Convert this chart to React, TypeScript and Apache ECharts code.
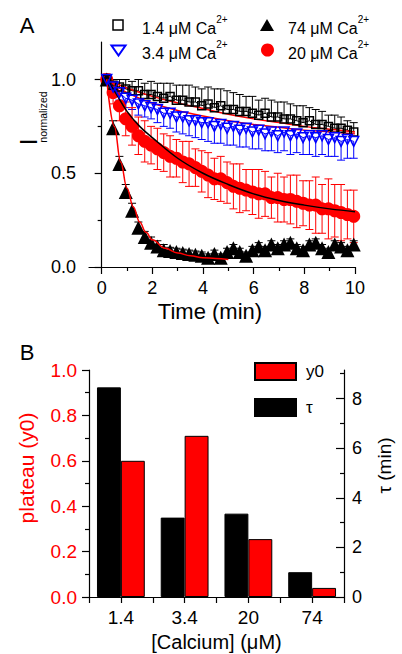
import React, { useEffect, useRef } from 'react';
import * as echarts from 'echarts';

const FONT = 'Liberation Sans, Arial, sans-serif';

// ---------- Panel A data ----------
const times = [0.2, 0.45, 0.7, 0.95, 1.2, 1.45, 1.7, 1.95, 2.2, 2.45, 2.7, 2.95, 3.2, 3.45, 3.7, 3.95, 4.2, 4.45, 4.7, 4.95,
  5.2, 5.45, 5.7, 5.95, 6.2, 6.45, 6.7, 6.95, 7.2, 7.45, 7.7, 7.95, 8.2, 8.45, 8.7, 8.95, 9.2, 9.45, 9.7, 9.95];

// 1.4 uM Ca2+ (open squares), upper SD
const ca14 = [1.00, 0.97, 0.96, 0.95, 0.94, 0.94, 0.92, 0.92, 0.91, 0.90, 0.91, 0.89, 0.89, 0.88, 0.88, 0.86, 0.87, 0.85, 0.86, 0.84,
  0.84, 0.83, 0.83, 0.82, 0.81, 0.82, 0.80, 0.80, 0.79, 0.79, 0.78, 0.77, 0.78, 0.76, 0.76, 0.75, 0.74, 0.74, 0.73, 0.72];
const ca14Err = [0.01, 0.03, 0.04, 0.05, 0.05, 0.06, 0.06, 0.07, 0.07, 0.08, 0.07, 0.08, 0.08, 0.09, 0.08, 0.09, 0.09, 0.10, 0.09, 0.10,
  0.09, 0.09, 0.08, 0.09, 0.08, 0.08, 0.09, 0.08, 0.09, 0.08, 0.08, 0.09, 0.07, 0.08, 0.07, 0.06, 0.07, 0.06, 0.05, 0.05];

// 3.4 uM Ca2+ (open down triangles), lower SD
const ca34 = [1.00, 0.96, 0.93, 0.90, 0.89, 0.87, 0.86, 0.85, 0.84, 0.82, 0.82, 0.80, 0.80, 0.78, 0.78, 0.77, 0.77, 0.75, 0.76, 0.74,
  0.75, 0.73, 0.74, 0.72, 0.73, 0.71, 0.72, 0.70, 0.72, 0.70, 0.71, 0.69, 0.70, 0.69, 0.70, 0.68, 0.69, 0.67, 0.68, 0.67];
const ca34Err = [0.01, 0.03, 0.04, 0.05, 0.05, 0.06, 0.06, 0.06, 0.07, 0.07, 0.08, 0.08, 0.09, 0.08, 0.09, 0.09, 0.10, 0.09, 0.10, 0.09,
  0.10, 0.09, 0.10, 0.09, 0.10, 0.09, 0.10, 0.09, 0.10, 0.10, 0.10, 0.09, 0.10, 0.10, 0.10, 0.09, 0.10, 0.10, 0.10, 0.09];

// 20 uM Ca2+ (red circles), +/- SD
const ca20 = [1.00, 0.93, 0.86, 0.79, 0.75, 0.70, 0.67, 0.65, 0.63, 0.61, 0.59, 0.58, 0.56, 0.55, 0.53, 0.51, 0.49, 0.47, 0.47, 0.45,
  0.43, 0.42, 0.41, 0.40, 0.39, 0.39, 0.37, 0.37, 0.36, 0.36, 0.35, 0.34, 0.33, 0.33, 0.31, 0.31, 0.30, 0.29, 0.28, 0.27];
const ca20Err = [0.03, 0.06, 0.08, 0.09, 0.10, 0.10, 0.11, 0.10, 0.11, 0.10, 0.11, 0.10, 0.11, 0.12, 0.10, 0.11, 0.12, 0.11, 0.12, 0.11,
  0.12, 0.13, 0.11, 0.12, 0.13, 0.12, 0.11, 0.13, 0.12, 0.13, 0.14, 0.12, 0.13, 0.15, 0.13, 0.16, 0.14, 0.15, 0.13, 0.14];

// 74 uM Ca2+ (filled triangles), upper SD
const ca74 = [1.00, 0.74, 0.55, 0.40, 0.30, 0.21, 0.16, 0.13, 0.11, 0.09, 0.085, 0.08, 0.075, 0.07, 0.065, 0.06, 0.05, 0.07, 0.05, 0.08,
  0.10, 0.08, 0.06, 0.09, 0.11, 0.09, 0.12, 0.10, 0.12, 0.13, 0.10, 0.09, 0.12, 0.13, 0.10, 0.08, 0.12, 0.11, 0.09, 0.12];
const ca74Err = [0.01, 0.04, 0.04, 0.04, 0.04, 0.03, 0.03, 0.03, 0.03, 0.03, 0.02, 0.02, 0.02, 0.02, 0.02, 0.02, 0.02, 0.02, 0.02, 0.02,
  0.02, 0.02, 0.02, 0.02, 0.02, 0.02, 0.02, 0.02, 0.02, 0.02, 0.02, 0.02, 0.02, 0.02, 0.02, 0.02, 0.02, 0.02, 0.02, 0.02];

// exponential fit curves
const fitT = [0.2, 1, 2, 3, 4, 5, 6, 7, 8, 9, 10];
const fit14 = [1.0, 0.955, 0.91, 0.875, 0.845, 0.815, 0.79, 0.77, 0.75, 0.735, 0.72];
const fit34 = [1.0, 0.93, 0.875, 0.835, 0.805, 0.78, 0.76, 0.745, 0.73, 0.72, 0.71];
const fit20T = [0.2, 0.5, 1, 1.5, 2, 3, 4, 5, 6, 7, 8, 9, 10];
const fit20 = [1.0, 0.94, 0.83, 0.75, 0.69, 0.58, 0.50, 0.44, 0.39, 0.355, 0.33, 0.31, 0.295];
const fit74T = [0.2, 0.5, 0.75, 1.0, 1.25, 1.5, 1.75, 2, 2.5, 3, 3.5, 4, 4.5, 5];
const fit74 = [1.0, 0.75, 0.56, 0.42, 0.32, 0.24, 0.185, 0.145, 0.10, 0.075, 0.06, 0.05, 0.045, 0.04];

// ---------- Panel B data ----------
const calcium = ['1.4', '3.4', '20', '74'];
const plateauY0 = [0.60, 0.71, 0.255, 0.04];
const tauMin = [8.45, 3.2, 3.36, 1.0];

const pairs = (xs: number[], ys: number[]) => xs.map((x, i) => [x, ys[i]]);

const errRender = (color: string) => (_params: any, api: any) => {
  const t = api.value(0);
  const lo = api.value(1);
  const hi = api.value(2);
  const capLo = api.value(3);
  const capHi = api.value(4);
  const pLo = api.coord([t, lo]);
  const pHi = api.coord([t, hi]);
  const w = 4;
  const style = { stroke: color, lineWidth: 1, fill: 'none' };
  const children: any[] = [
    { type: 'line', shape: { x1: pLo[0], y1: pLo[1], x2: pHi[0], y2: pHi[1] }, style },
  ];
  if (capHi) children.push({ type: 'line', shape: { x1: pHi[0] - w, y1: pHi[1], x2: pHi[0] + w, y2: pHi[1] }, style });
  if (capLo) children.push({ type: 'line', shape: { x1: pLo[0] - w, y1: pLo[1], x2: pLo[0] + w, y2: pLo[1] }, style });
  return { type: 'group', children };
};

const errSeries = (name: string, data: number[][], color: string) => ({
  name,
  type: 'custom',
  xAxisIndex: 0,
  yAxisIndex: 0,
  renderItem: errRender(color),
  encode: { x: 0, y: [1, 2] },
  data,
  silent: true,
});

const axisLine = { show: true, lineStyle: { color: '#000', width: 1.2 } };
const tickStyle = { color: '#000', width: 1.2 };

const supText = (main: string) => ({
  text: `{n|${main}}{s|2+}`,
  rich: {
    n: { fontSize: 16, fontFamily: FONT, fill: '#000', verticalAlign: 'bottom', lineHeight: 22 },
    s: { fontSize: 10, fontFamily: FONT, fill: '#000', verticalAlign: 'top', lineHeight: 10 },
  },
});

export default function App() {
  const ref = useRef<HTMLDivElement>(null);

  useEffect(() => {
    const chart = echarts.init(ref.current!, null, { renderer: 'svg' });

    const bars14 = times.map((t, i) => [t, ca14[i], ca14[i] + ca14Err[i], 0, 1]);
    const bars34 = times.map((t, i) => [t, ca34[i] - ca34Err[i], ca34[i], 1, 0]);
    const bars20 = times.map((t, i) => [t, ca20[i] - ca20Err[i], ca20[i] + ca20Err[i], 1, 1]);
    const bars74 = times.map((t, i) => [t, ca74[i], ca74[i] + ca74Err[i], 0, 1]);

    const option: any = {
      animation: false,
      backgroundColor: '#fff',
      textStyle: { fontFamily: FONT },
      grid: [
        { left: 89, right: 47, top: 42, height: 225 },
        { left: 101.67, right: 47, top: 42, height: 225 },
        { left: 89, right: 47, top: 370, height: 227 },
      ],
      xAxis: [
        {
          gridIndex: 0, type: 'value', min: -0.5, max: 10,
          axisLine, axisTick: { show: false }, axisLabel: { show: false }, splitLine: { show: false },
          name: 'Time (min)', nameLocation: 'middle', nameGap: 33,
          nameTextStyle: { fontSize: 22, color: '#000', fontFamily: FONT, padding: [0, 24, 0, 0] },
        },
        {
          gridIndex: 1, type: 'value', min: 0, max: 10, interval: 2,
          axisLine: { show: false },
          axisTick: { show: true, length: 7, lineStyle: tickStyle },
          minorTick: { show: true, splitNumber: 2, length: 4, lineStyle: tickStyle },
          axisLabel: { fontSize: 18, color: '#000', margin: 12, fontFamily: FONT },
          splitLine: { show: false }, minorSplitLine: { show: false },
        },
        {
          gridIndex: 2, type: 'category', data: calcium,
          axisLine, axisTick: { show: false },
          axisLabel: { fontSize: 19, color: '#000', margin: 11, fontFamily: FONT },
          name: '[Calcium] (μM)', nameLocation: 'middle', nameGap: 35,
          nameTextStyle: { fontSize: 20, color: '#000', fontFamily: FONT },
        },
        {
          gridIndex: 2, type: 'value', min: 0, max: 8, interval: 1, position: 'bottom',
          axisLine: { show: false },
          axisTick: { show: true, length: 6, lineStyle: tickStyle },
          axisLabel: { show: false }, splitLine: { show: false },
        },
      ],
      yAxis: [
        {
          gridIndex: 0, type: 'value', min: 0, max: 1.2, interval: 0.5,
          axisLine,
          axisTick: { show: true, length: 7, lineStyle: tickStyle, customValues: [0, 0.5, 1] },
          minorTick: { show: true, splitNumber: 2, length: 4, lineStyle: tickStyle },
          axisLabel: {
            fontSize: 18, color: '#000', margin: 13, fontFamily: FONT,
            customValues: [0, 0.5, 1], formatter: (v: number) => v.toFixed(1),
          },
          splitLine: { show: false }, minorSplitLine: { show: false },
        },
        { gridIndex: 1, type: 'value', min: 0, max: 1.2, show: false },
        {
          gridIndex: 2, type: 'value', min: 0, max: 1, interval: 0.2, position: 'left',
          axisLine,
          axisTick: { show: true, length: 7, lineStyle: tickStyle },
          minorTick: { show: true, splitNumber: 2, length: 4, lineStyle: tickStyle },
          axisLabel: { fontSize: 19, color: '#ff0000', margin: 12, fontFamily: FONT, formatter: (v: number) => v.toFixed(1) },
          splitLine: { show: false }, minorSplitLine: { show: false },
          name: 'plateau (y0)', nameLocation: 'middle', nameGap: 52, nameRotate: 90,
          nameTextStyle: { fontSize: 21, color: '#ff0000', fontFamily: FONT, padding: [0, 0, 0, 31] },
        },
        {
          gridIndex: 2, type: 'value', min: 0, max: 9.15, interval: 2, position: 'right',
          axisLine,
          axisTick: { show: true, inside: true, length: 8, lineStyle: tickStyle, customValues: [0, 2, 4, 6, 8] },
          minorTick: { show: true, splitNumber: 2, length: 4, lineStyle: tickStyle },
          axisLabel: { fontSize: 18, color: '#000', margin: 8, fontFamily: FONT, customValues: [0, 2, 4, 6, 8] },
          splitLine: { show: false }, minorSplitLine: { show: false },
          name: 'τ (min)', nameLocation: 'middle', nameGap: 31, nameRotate: 90,
          nameTextStyle: { fontSize: 19, color: '#000', fontFamily: FONT, padding: [0, 0, 0, 36] },
        },
      ],
      legend: {
        data: ['y0', 'τ'], orient: 'vertical', left: 254, top: 362, padding: 0,
        itemWidth: 41, itemHeight: 17, itemGap: 17, icon: 'rect',
        textStyle: { fontSize: 17, color: '#000', fontFamily: FONT, padding: [0, 0, 0, 5] },
        selectedMode: false,
      },
      series: [
        errSeries('err14', bars14, '#000'),
        {
          name: '1.4 μM Ca2+', type: 'line', xAxisIndex: 0, yAxisIndex: 0, data: pairs(times, ca14),
          symbol: 'rect', symbolSize: 8,
          itemStyle: { color: 'rgba(0,0,0,0)', borderColor: '#000', borderWidth: 1.5 },
          lineStyle: { color: '#000', width: 1 },
        },
        errSeries('err34', bars34, '#0000ff'),
        {
          name: '3.4 μM Ca2+', type: 'line', xAxisIndex: 0, yAxisIndex: 0, data: pairs(times, ca34),
          symbol: 'triangle', symbolRotate: 180, symbolSize: 10,
          itemStyle: { color: 'rgba(0,0,0,0)', borderColor: '#0000ff', borderWidth: 1.5 },
          lineStyle: { color: '#0000ff', width: 1 },
        },
        errSeries('err20', bars20, '#ff0000'),
        {
          name: '20 μM Ca2+', type: 'scatter', xAxisIndex: 0, yAxisIndex: 0, data: pairs(times, ca20),
          symbol: 'circle', symbolSize: 13, itemStyle: { color: '#ff0000', opacity: 1 },
        },
        errSeries('err74', bars74, '#000'),
        {
          name: '74 μM Ca2+', type: 'scatter', xAxisIndex: 0, yAxisIndex: 0, data: pairs(times, ca74),
          symbol: 'triangle', symbolSize: 14, itemStyle: { color: '#000', opacity: 1 },
        },
        {
          name: 'fit14', type: 'line', xAxisIndex: 0, yAxisIndex: 0, data: pairs(fitT, fit14),
          showSymbol: false, smooth: 0.4, lineStyle: { color: '#ff0000', width: 1.5 },
        },
        {
          name: 'fit34', type: 'line', xAxisIndex: 0, yAxisIndex: 0, data: pairs(fitT, fit34),
          showSymbol: false, smooth: 0.4, lineStyle: { color: '#ff0000', width: 1.5 },
        },
        {
          name: 'fit20', type: 'line', xAxisIndex: 0, yAxisIndex: 0, data: pairs(fit20T, fit20),
          showSymbol: false, smooth: 0.4, lineStyle: { color: '#000', width: 1.5 },
        },
        {
          name: 'fit74', type: 'line', xAxisIndex: 0, yAxisIndex: 0, data: pairs(fit74T, fit74),
          showSymbol: false, smooth: 0.4, smoothMonotone: 'x', lineStyle: { color: '#ff0000', width: 1.5 },
        },
        {
          name: 'τ', type: 'bar', xAxisIndex: 2, yAxisIndex: 3, data: tauMin,
          barGap: '0%', barCategoryGap: '25%',
          itemStyle: { color: '#000', borderColor: '#000', borderWidth: 1 },
        },
        {
          name: 'y0', type: 'bar', xAxisIndex: 2, yAxisIndex: 2, data: plateauY0,
          barGap: '0%', barCategoryGap: '25%',
          itemStyle: { color: '#ff0000', borderColor: '#000', borderWidth: 1 },
        },
      ],
      graphic: [
        { type: 'text', x: 27, y: 25, style: { text: 'A', fontSize: 22, fontFamily: FONT, fill: '#000', align: 'center', verticalAlign: 'middle' } },
        { type: 'text', x: 27, y: 352, style: { text: 'B', fontSize: 22, fontFamily: FONT, fill: '#000', align: 'center', verticalAlign: 'middle' } },
        { type: 'text', x: 28, y: 142, rotation: Math.PI / 2, style: { text: 'I', fontSize: 24, fontFamily: FONT, fill: '#000', align: 'center', verticalAlign: 'middle' } },
        { type: 'text', x: 43, y: 117, rotation: Math.PI / 2, style: { text: 'normalized', fontSize: 10.5, fontFamily: FONT, fill: '#000', align: 'center', verticalAlign: 'middle' } },
        // legend A
        { type: 'rect', shape: { x: 113, y: 20, width: 10, height: 10 }, style: { fill: 'none', stroke: '#000', lineWidth: 1.5 } },
        { type: 'text', x: 142, y: 25, style: { ...supText('1.4 μM Ca'), align: 'left', verticalAlign: 'middle' } },
        { type: 'polygon', shape: { points: [[260, 31], [274, 31], [267, 19]] }, style: { fill: '#000' } },
        { type: 'text', x: 288, y: 25, style: { ...supText('74 μM Ca'), align: 'left', verticalAlign: 'middle' } },
        { type: 'polygon', shape: { points: [[111.5, 45.5], [125.5, 45.5], [118.5, 55.5]] }, style: { fill: 'none', stroke: '#0000ff', lineWidth: 2 } },
        { type: 'text', x: 142, y: 50, style: { ...supText('3.4 μM Ca'), align: 'left', verticalAlign: 'middle' } },
        { type: 'circle', shape: { cx: 267.5, cy: 50, r: 6.5 }, style: { fill: '#ff0000' } },
        { type: 'text', x: 288, y: 50, style: { ...supText('20 μM Ca'), align: 'left', verticalAlign: 'middle' } },
      ],
    };

    chart.setOption(option);
    return () => chart.dispose();
  }, []);

  return (
    <div
      ref={ref}
      style={{ position: 'absolute', left: 0, top: 0, width: 402, height: 654, background: '#fff' }}
    />
  );
}
